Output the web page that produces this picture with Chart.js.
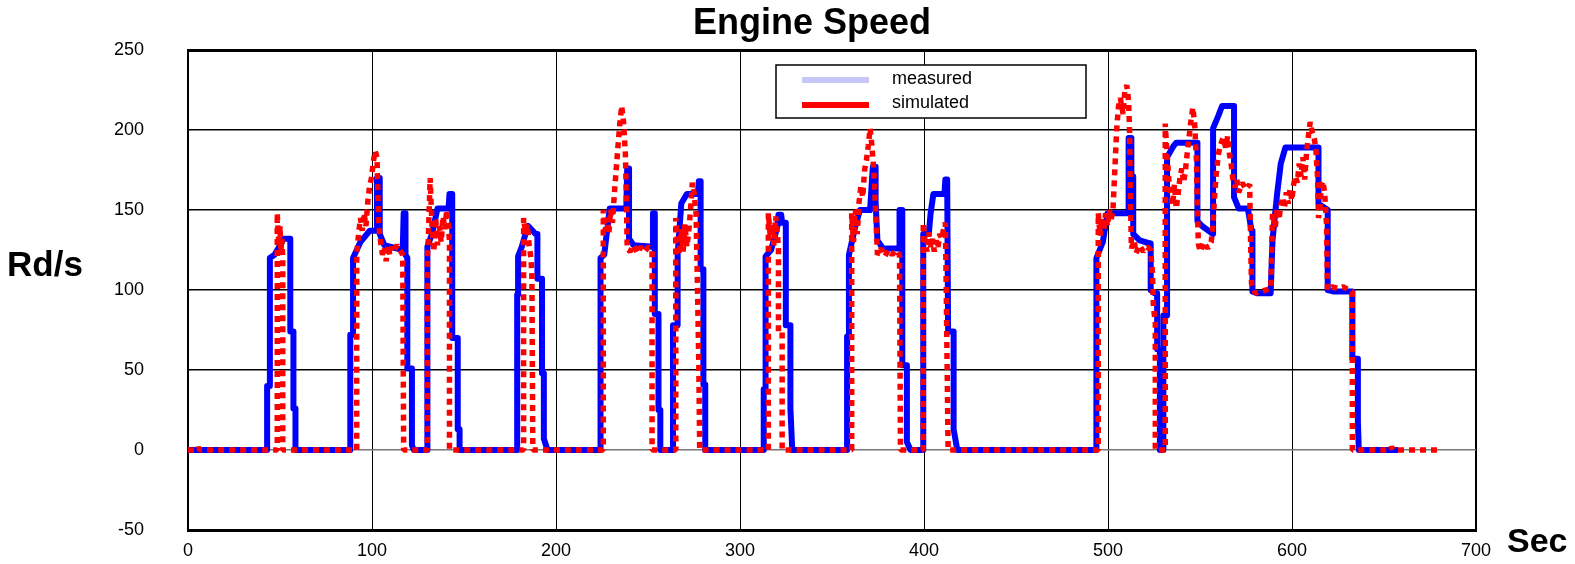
<!DOCTYPE html>
<html>
<head>
<meta charset="utf-8">
<script src="https://cdn.jsdelivr.net/npm/chart.js@4.4.1/dist/chart.umd.min.js"></script>
<style>
  html, body { margin: 0; padding: 0; background: #fff; }
  #wrap { width: 1575px; height: 564px; }
</style>
</head>
<body>
<div id="wrap"><canvas id="speedChart"></canvas></div>
<script>
// Engine speed: measured (blue) vs simulated (red dotted)

const xTicks = [0, 100, 200, 300, 400, 500, 600, 700];
const yTicks = [-50, 0, 50, 100, 150, 200, 250];

// measured trace, read pulse by pulse
const measuredTime = [
  0, 43, 43, 44.5, 44.5, 47, 49, 52, 55.6, 55.6, 57.3, 57.3, 58.4, 58.4,
  88.2, 88.2, 89.7, 89.7, 93.7, 98.7, 102.7, 102.7, 104.2, 104.2, 106.7, 116.7, 117.2, 118.2, 118.2, 119.2, 119.2, 121.7, 121.7, 122.7,
  130.1, 130.1, 132.6, 135.6, 141.6, 142.1, 143.6, 143.6, 146.6, 146.6, 147.6, 147.6,
  178.9, 178.9, 179.4, 179.4, 181.4, 184.4, 184.9, 188.9, 189.9, 189.9, 192.4, 192.4, 193.4, 193.4, 195.4,
  224.2, 224.2, 226.2, 229.2, 238.2, 238.7, 239.7, 239.7, 242.2, 252.2, 252.7, 253.7, 253.7, 255.7, 255.7, 256.7, 256.7,
  263.6, 263.6, 266.1, 266.1, 268.1, 271.1, 277.1, 277.6, 278.6, 278.6, 280.1, 280.1, 281.1, 281.1,
  312.9, 312.9, 313.9, 313.9, 316.9, 320.4, 320.9, 322.4, 322.9, 324.9, 324.9, 327.4, 327.4, 328.4,
  358.2, 358.2, 359.2, 359.2, 362.7, 365.2, 370.7, 372.2, 373.7, 373.7, 374.7, 377.7, 386.7, 386.7, 388.2, 388.2, 390.7, 390.7, 392.7,
  399.6, 399.6, 402.6, 403.6, 405.1, 411.1, 411.6, 412.6, 413.1, 416.1, 416.1, 418.1,
  493.7, 493.7, 497.2, 499.7, 511.2, 511.2, 512.7, 512.7, 513.7, 513.7, 517.2, 523.2, 523.2, 525.2, 526.7, 526.7, 528.2, 528.2,
  530.1, 530.1, 532.1, 532.1, 535.6, 537.1, 548.6, 548.6, 551.1, 557.1, 557.1, 560, 562, 568.5, 568.5, 571, 576, 578, 578.5, 578.5,
  581, 588.4, 589.4, 591.9, 593.9, 596.4, 614.4, 614.4, 619.4, 619.4, 622.9, 632.8, 632.8, 635.8, 635.8, 636.3, 657.6
];
const measuredSpeed = [
  0, 0, 40, 40, 120, 122, 126, 132, 132, 74, 74, 26, 26, 0,
  0, 72, 72, 120, 130, 137, 137, 170, 170, 135, 128, 125, 148, 148, 122, 120, 51, 51, 3, 0,
  0, 127, 135, 151, 151, 160, 160, 70, 70, 13, 13, 0,
  0, 97, 97, 121, 127, 139, 140, 135, 135, 107, 107, 48, 48, 7, 0,
  0, 120, 122, 151, 151, 176, 176, 132, 128, 127, 148, 148, 85, 85, 25, 25, 0,
  0, 78, 78, 122, 154, 160, 160, 168, 168, 113, 113, 41, 41, 0,
  0, 38, 38, 121, 125, 140, 147, 147, 142, 142, 78, 78, 26, 0,
  0, 71, 71, 122, 140, 150, 150, 177, 177, 155, 131, 126, 126, 150, 150, 53, 53, 5, 0,
  0, 135, 135, 148, 160, 160, 169, 169, 74, 74, 13, 0,
  0, 120, 130, 148, 148, 195, 195, 171, 171, 135, 131, 129, 100, 98, 98, 63, 63, 0,
  0, 84, 84, 183, 190, 192, 192, 143, 140, 135, 201, 209, 215, 215, 158, 151, 151, 137, 137, 99,
  98, 98, 131, 160, 179, 189, 189, 154, 150, 100, 99, 99, 57, 57, 18, 0, 0
];

// simulated trace
const simulatedTime = [
  0, 5.1, 5.6, 6.6, 48.5, 48.5, 49, 49.5, 50, 50.5, 51, 51.5, 51.5,
  91.7, 91.7, 92.7, 93.7, 94.7, 95.7, 96.7, 97.7, 98.7, 99.7, 100.7, 101.7, 102.7, 103.2, 103.7, 104.7, 105.7, 106.7, 107.7, 108.7, 109.7, 110.7, 111.7, 113.7, 115.7, 116.7, 117.2,
  130.1, 130.1, 130.6, 131.6, 132.6, 133.6, 134.6, 135.6, 136.6, 137.6, 138.6, 139.6, 140.6, 141.6, 142.1, 142.1,
  182.4, 182.4, 183.4, 184.4, 185.4, 186.4, 186.9, 187.4,
  225.7, 225.7, 226.7, 227.7, 228.7, 229.7, 230.7, 231.7, 232.7, 233.7, 234.7, 235.7, 236.7, 237.7, 238.2, 238.7, 240.2, 242.2, 244.2, 246.2, 248.2, 250.2, 252.2, 252.2,
  265.1, 265.1, 266.1, 267.1, 268.1, 269.1, 270.1, 271.1, 272.1, 273.1, 274.1, 275.1, 276.1, 276.6, 277.6, 278.1,
  315.4, 315.4, 316.4, 317.4, 318.4, 319.4, 320.4, 320.9, 320.9, 322.9, 322.9,
  360.7, 360.7, 361.7, 362.7, 363.7, 364.7, 365.7, 366.7, 367.7, 368.7, 369.7, 370.7, 371.7, 372.7, 373.7, 374.7, 376.7, 378.7, 380.7, 382.7, 384.7, 386.7, 387.2,
  399.6, 399.6, 400.6, 401.6, 402.6, 403.6, 404.6, 405.6, 406.6, 407.6, 408.6, 409.6, 410.6, 411.6, 412.1, 413.1,
  494.7, 494.7, 495.7, 496.7, 497.7, 498.7, 499.7, 500.7, 501.7, 502.7, 503.7, 504.7, 505.7, 506.7, 508.2, 509.2, 510.2, 511.2, 511.7, 512.2, 512.7,
  514.2, 515.2, 517.2, 519.2, 521.2, 523.2, 524.2, 524.7, 525.7, 525.7,
  531.1, 531.1, 532.1, 533.1, 534.1, 535.1, 536.1, 537.1, 538.1, 539.1, 540.1, 541.1, 542.1, 543.1, 544.1, 545.1, 546.1, 547.1, 548.1, 548.6, 549.1, 550.1, 552.1, 554.1, 556.1,
  557, 558, 559, 560, 561, 562.5, 564, 565, 566, 567, 568, 569, 570, 571, 573, 575, 577, 577.5, 578, 580, 583, 586, 588.5,
  589.4, 590.9, 591.9, 592.9, 593.9, 594.9, 595.9, 596.9, 597.9, 598.9, 599.9, 600.9, 601.9, 602.9, 603.9, 604.9, 605.9, 606.9, 607.9, 608.9, 609.9, 610.9, 611.9, 612.9, 613.9, 614.4,
  615.3, 615.8, 616.8, 617.8, 618.8, 619.3, 621.8, 624.8, 627.8, 630.8, 632.8, 632.8, 653.6, 654.1, 655.1, 679.1
];
const simulatedSpeed = [
  0, 0, 1.5, 0, 0, 148, 136, 128, 140, 124, 132, 120, 0,
  0, 122, 135, 145, 137, 148, 140, 155, 165, 170, 180, 187, 183, 160, 140, 130, 122, 126, 118, 128, 122, 127, 124, 128, 124, 122, 0,
  0, 120, 132, 170, 140, 124, 145, 128, 140, 130, 146, 138, 150, 140, 130, 0,
  0, 145, 136, 141, 128, 120, 108, 0,
  0, 150, 137, 145, 135, 150, 142, 160, 175, 190, 204, 215, 205, 185, 160, 126, 124, 128, 123, 127, 124, 127, 125, 0,
  0, 145, 130, 122, 138, 124, 141, 127, 136, 150, 167, 160, 148, 120, 55, 0,
  0, 148, 134, 141, 128, 146, 134, 125, 74, 74, 0,
  0, 148, 130, 150, 135, 155, 165, 158, 175, 181, 190, 201, 190, 175, 150, 122, 126, 121, 125, 122, 125, 122, 0,
  0, 142, 130, 124, 136, 127, 132, 124, 131, 127, 135, 132, 138, 142, 100, 0,
  0, 148, 134, 145, 137, 148, 140, 150, 144, 150, 175, 200, 215, 220, 210, 225, 228, 218, 200, 160, 126,
  131, 123, 128, 124, 127, 125, 110, 89, 80, 0,
  0, 204, 185, 168, 160, 153, 166, 151, 160, 170, 176, 167, 175, 186, 196, 206, 214, 204, 180, 150, 129, 124, 130, 126, 130,
  140, 160, 175, 185, 190, 195, 189, 196, 185, 178, 168, 164, 169, 161, 167, 163, 166, 130, 104, 98, 99, 100, 101,
  148, 139, 151, 144, 153, 158, 151, 161, 154, 163, 156, 166, 171, 167, 179, 171, 183, 169, 186, 196, 205, 199, 196, 189, 170, 145,
  151, 165, 168, 160, 140, 100, 102, 101, 102, 100, 99, 0, 0, 2, 0, 0
];

const measuredPoints = measuredTime.map((t, i) => ({ x: t, y: measuredSpeed[i] }));
const simulatedPoints = simulatedTime.map((t, i) => ({ x: t, y: simulatedSpeed[i] }));

// title, axis words and the boxed legend
const decorPlugin = {
  id: 'decor',
  afterDraw: function(chart) {
    const ctx = chart.ctx;
    ctx.save();
    ctx.fillStyle = '#000';
    ctx.textBaseline = 'middle';

    ctx.textAlign = 'center';
    ctx.font = 'bold 36px "Liberation Sans", Arial, sans-serif';
    ctx.fillText('Engine Speed', 812, 24);

    ctx.textAlign = 'left';
    ctx.font = 'bold 35px "Liberation Sans", Arial, sans-serif';
    ctx.fillText('Rd/s', 7, 266);
    ctx.font = 'bold 34px "Liberation Sans", Arial, sans-serif';
    ctx.fillText('Sec', 1507, 543);

    // legend box
    ctx.fillStyle = '#fff';
    ctx.fillRect(776, 65, 310, 53);
    ctx.strokeStyle = '#000';
    ctx.lineWidth = 1.5;
    ctx.strokeRect(776, 65, 310, 53);

    ctx.lineWidth = 6;
    ctx.strokeStyle = '#c8c8f8';
    ctx.beginPath(); ctx.moveTo(802, 80); ctx.lineTo(869, 80); ctx.stroke();
    ctx.strokeStyle = '#ff0000';
    ctx.beginPath(); ctx.moveTo(802, 105); ctx.lineTo(869, 105); ctx.stroke();

    ctx.fillStyle = '#000';
    ctx.font = '18px "Liberation Sans", Arial, sans-serif';
    ctx.fillText('measured', 892, 79);
    ctx.fillText('simulated', 892, 103);
    ctx.restore();
  }
};

const chartConfig = {
  type: 'line',
  data: {
    datasets: [{
      label: 'measured',
      data: measuredPoints,
      borderColor: '#0000ff',
      borderWidth: 6,
      borderJoinStyle: 'round',
      pointRadius: 0,
      tension: 0,
      order: 2
    }, {
      label: 'simulated',
      data: simulatedPoints,
      borderColor: '#ff0000',
      borderWidth: 5.5,
      borderDash: [6, 5],
      borderJoinStyle: 'bevel',
      pointRadius: 0,
      tension: 0,
      order: 1
    }]
  },
  options: {
    responsive: true,
    maintainAspectRatio: false,
    animation: false,
    layout: { padding: { left: 0, top: 50, right: 99, bottom: 0 } },
    plugins: {
      legend: { display: false },
      title: { display: false },
      tooltip: { enabled: false }
    },
    scales: {
      x: {
        type: 'linear',
        min: 0,
        max: 700,
        afterBuildTicks: function(scale) {
          scale.ticks = xTicks.map(v => ({ value: v }));
        },
        afterFit: function(scale) { scale.height = 34; },
        border: { display: true, color: '#000', width: 3 },
        grid: {
          drawTicks: false,
          color: '#000',
          lineWidth: function(ctx) { return ctx.tick && ctx.tick.value === 700 ? 2 : 1; }
        },
        ticks: {
          padding: 10,
          color: '#000',
          font: { family: '"Liberation Sans", Arial, sans-serif', size: 18 }
        }
      },
      y: {
        min: -50,
        max: 250,
        afterBuildTicks: function(scale) {
          scale.ticks = yTicks.map(v => ({ value: v }));
        },
        afterFit: function(scale) { scale.width = 188; },
        border: { display: true, color: '#000', width: 2 },
        grid: {
          drawTicks: true,
          tickLength: 40,
          tickColor: 'rgba(0,0,0,0)',
          color: function(ctx) { return ctx.tick && ctx.tick.value === 0 ? '#777' : '#000'; },
          lineWidth: function(ctx) { return ctx.tick && ctx.tick.value === 250 ? 3 : 1.6; }
        },
        ticks: {
          padding: 4,
          color: '#000',
          font: { family: '"Liberation Sans", Arial, sans-serif', size: 18 }
        }
      }
    }
  },
  plugins: [decorPlugin]
};

new Chart(document.getElementById('speedChart'), chartConfig);
</script>
</body>
</html>
